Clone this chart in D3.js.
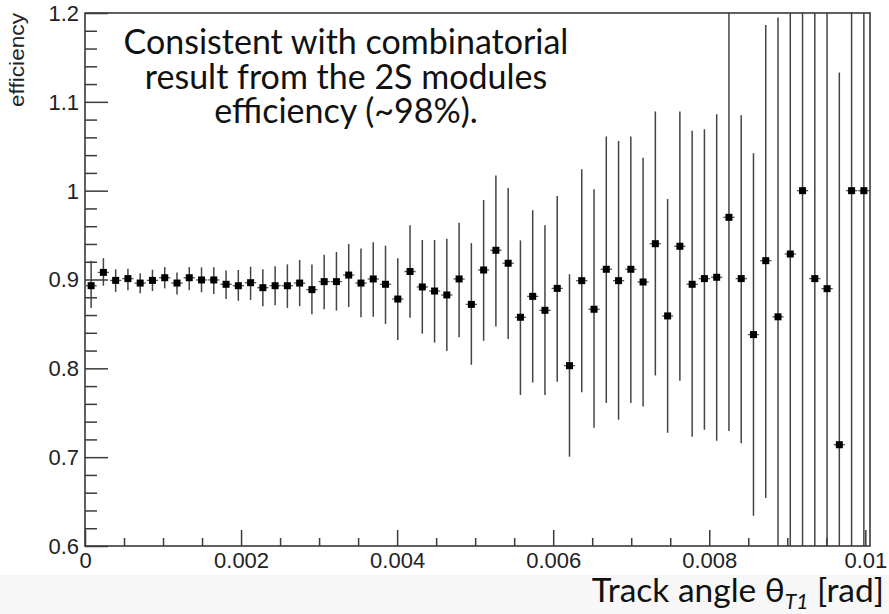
<!DOCTYPE html>
<html><head><meta charset="utf-8">
<script src="https://cdn.jsdelivr.net/npm/d3@7"></script>
<style>body{margin:0;background:#fff} svg{display:block}</style>
</head><body>
<svg id="c" width="889" height="614"></svg>
<script>
// ---- data ----
const nBins = 64;
const xMax = 0.01006;
const efficiency = [
  0.893, 0.908, 0.899, 0.901, 0.896, 0.899, 0.902, 0.896, 0.902, 0.8995,
  0.8995, 0.8946, 0.893, 0.8964, 0.8908, 0.893, 0.893, 0.896, 0.8886, 0.8976,
  0.8976, 0.905, 0.896, 0.9006, 0.8946, 0.878, 0.909, 0.8916, 0.887, 0.8826,
  0.9006, 0.872, 0.9107, 0.9329, 0.9183, 0.8575, 0.881, 0.8653, 0.890, 0.803,
  0.8987, 0.8665, 0.9115, 0.8987, 0.9115, 0.8972, 0.9403, 0.859, 0.9374, 0.8946,
  0.901, 0.9025, 0.970, 0.901, 0.838, 0.9212, 0.858, 0.9287, 1.0, 0.901,
  0.8897, 0.714, 1.0, 1.0
];
const errUpper = [
  0.921, 0.924, 0.9115, 0.912, 0.907, 0.911, 0.914, 0.908, 0.914, 0.9137,
  0.9137, 0.910, 0.9107, 0.9144, 0.9115, 0.915, 0.917, 0.922, 0.917, 0.928,
  0.931, 0.940, 0.935, 0.942, 0.938, 0.924, 0.961, 0.9445, 0.9445, 0.946,
  0.964, 0.941, 0.9895, 1.017, 1.003, 0.944, 0.978, 0.961, 0.994, 0.906,
  1.024, 1.0016, 1.061, 1.056, 1.061, 1.037, 1.089, 0.9906, 1.089, 1.0675,
  1.069, 1.086, 1.3, 1.085, 1.042, 1.1865, 1.195, 1.3, 1.3, 1.3,
  1.3, 1.133, 1.3, 1.3
];
const errLower = [
  0.868, 0.893, 0.886, 0.888, 0.8845, 0.887, 0.890, 0.883, 0.888, 0.8856,
  0.8837, 0.878, 0.876, 0.877, 0.870, 0.871, 0.868, 0.870, 0.861, 0.8665,
  0.865, 0.869, 0.8575, 0.858, 0.850, 0.832, 0.857, 0.839, 0.829, 0.8195,
  0.835, 0.804, 0.831, 0.847, 0.833, 0.770, 0.784, 0.770, 0.785, 0.7005,
  0.773, 0.733, 0.761, 0.742, 0.761, 0.757, 0.792, 0.7275, 0.786, 0.723,
  0.731, 0.7185, 0.7295, 0.7156, 0.634, 0.654, 0.5, 0.5, 0.5, 0.5,
  0.5, 0.5, 0.5, 0.5
];
const xTickValues = [0, 0.002, 0.004, 0.006, 0.008, 0.01];
const xTickLabels = ["0", "0.002", "0.004", "0.006", "0.008", "0.01"];
const yTickValues = [0.6, 0.7, 0.8, 0.9, 1.0, 1.1, 1.2];
const yTickLabels = ["0.6", "0.7", "0.8", "0.9", "1", "1.1", "1.2"];
const yTitle = "efficiency";
const noteLines = ["Consistent with combinatorial", "result from the 2S modules", "efficiency (~98%)."];

// ---- drawing ----
const svg = d3.select("#c");
const W = 889, H = 614;
const m = {l: 85, r: 870, t: 13, b: 546};
const x = d3.scaleLinear().domain([0, xMax]).range([m.l, m.r]);
const y = d3.scaleLinear().domain([0.6, 1.2]).range([m.b, m.t]);
const binW = xMax / nBins;
const axisCol = "#3a3a3a";
const labFont = "'Liberation Sans', Arial, Helvetica, sans-serif";
const noteFont = "Lato, 'Open Sans', sans-serif";

svg.append("rect").attr("width", W).attr("height", H).attr("fill", "#fff");
// bottom grey band
svg.append("rect").attr("x", 0).attr("y", 575).attr("width", W).attr("height", H - 575).attr("fill", "#f7f7f7");

svg.append("clipPath").attr("id", "pc").append("rect")
  .attr("x", m.l).attr("y", m.t).attr("width", m.r - m.l).attr("height", m.b - m.t);

// minor ticks
const xMinor = x.ticks(20).filter(v => !xTickValues.some(t => Math.abs(t - v) < 1e-9));
const yMinor = y.ticks(30).filter(v => !yTickValues.some(t => Math.abs(t - v) < 1e-9));

const gx = svg.append("g").attr("transform", `translate(0,${m.b})`);
gx.call(d3.axisBottom(x).tickValues(xMinor).tickSizeInner(-8).tickSizeOuter(0).tickFormat(""));
gx.append("g").call(d3.axisBottom(x).tickValues(xTickValues).tickSizeInner(-16).tickSizeOuter(0).tickPadding(6)
  .tickFormat((d, i) => xTickLabels[i]));
const gy = svg.append("g").attr("transform", `translate(${m.l},0)`);
gy.call(d3.axisLeft(y).tickValues(yMinor).tickSizeInner(-12).tickSizeOuter(0).tickFormat(""));
gy.append("g").call(d3.axisLeft(y).tickValues(yTickValues).tickSizeInner(-23).tickSizeOuter(0).tickPadding(6)
  .tickFormat((d, i) => yTickLabels[i]));
svg.selectAll(".domain").remove();
svg.selectAll(".tick line").attr("stroke", axisCol).attr("stroke-width", 1.5);
svg.selectAll(".tick text").attr("font-family", labFont).attr("font-size", 22).attr("fill", "#222");
gy.selectAll(".tick text").attr("dy", "0.34em");

// data
const idx = d3.range(nBins);
const pg = svg.append("g").attr("clip-path", "url(#pc)");
pg.selectAll("line.ev").data(idx).join("line").attr("class", "ev")
  .attr("x1", i => x((i + 0.5) * binW)).attr("x2", i => x((i + 0.5) * binW))
  .attr("y1", i => y(errUpper[i])).attr("y2", i => y(errLower[i]))
  .attr("stroke", "#444").attr("stroke-width", 1.5);
pg.selectAll("line.eh").data(idx).join("line").attr("class", "eh")
  .attr("x1", i => x(i * binW) + 0.5).attr("x2", i => x((i + 1) * binW) - 0.5)
  .attr("y1", i => y(efficiency[i])).attr("y2", i => y(efficiency[i]))
  .attr("stroke", "#555").attr("stroke-width", 1.3);
pg.selectAll("rect.mk").data(idx).join("rect").attr("class", "mk")
  .attr("x", i => x((i + 0.5) * binW) - 3.5).attr("y", i => y(efficiency[i]) - 3.5)
  .attr("width", 7).attr("height", 7).attr("fill", "#000");

// frame
svg.append("rect").attr("x", m.l).attr("y", m.t).attr("width", m.r - m.l).attr("height", m.b - m.t)
  .attr("fill", "none").attr("stroke", axisCol).attr("stroke-width", 1.6);

// y title
svg.append("text").attr("transform", "translate(24,13) rotate(-90)")
  .attr("text-anchor", "end").attr("font-family", labFont).attr("font-size", 20)
  .attr("textLength", 94).attr("lengthAdjust", "spacingAndGlyphs").attr("fill", "#222").text(yTitle);

// annotation
const note = svg.append("text").attr("font-family", noteFont).attr("font-size", 34)
  .attr("fill", "#111").attr("text-anchor", "middle");
noteLines.forEach((t, i) => note.append("tspan").attr("x", 346).attr("y", 54 + i * 34.5).text(t));

// x title
const xt = svg.append("text").attr("x", 884).attr("y", 602).attr("text-anchor", "end")
  .attr("font-family", noteFont).attr("font-size", 33.5).attr("fill", "#111");
xt.append("tspan").text("Track angle \u03B8");
xt.append("tspan").attr("font-size", 21).attr("font-style", "italic").attr("dy", 7).text("T1");
xt.append("tspan").attr("dy", -7).text(" [rad]");
</script>
</body></html>
